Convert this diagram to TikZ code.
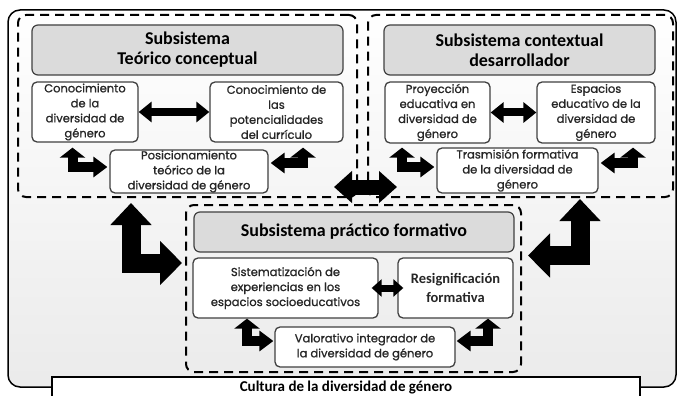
\documentclass[tikz,border=0pt]{standalone}
\usepackage{fontspec}
\setmainfont{Carlito}
\newfontfamily\roundfont[FakeBold=1]{Poppins}
\usetikzlibrary{arrows.meta}

\begin{document}
\begin{tikzpicture}[x=1pt,y=-1pt,
      subbox/.style={draw=black, line width=2pt, dash pattern=on 9pt off 6pt, rounded corners=8pt, inner sep=0pt},
      titlebox/.style={draw=black!75, line width=1.2pt, fill=gray!28, rounded corners=6pt, align=center, inner sep=0pt, font=\bfseries\fontsize{18}{20}\selectfont},
      itembox/.style={draw=black!75, line width=1.3pt, fill=white, rounded corners=5pt, align=center, inner sep=0pt, text=black!85, font=\roundfont\fontsize{11.5}{15}\selectfont},
      dblarrow/.style={line width=8pt, {Triangle[length=13pt,width=20pt]}-{Triangle[length=13pt,width=20pt]}},
      smalldbl/.style={line width=7pt, {Triangle[length=10pt,width=17pt]}-{Triangle[length=10pt,width=17pt]}},
      middbl/.style={line width=15pt, {Triangle[length=18pt,width=31pt]}-{Triangle[length=18pt,width=31pt]}},
      upright/.style={line width=10pt, line join=miter, {Triangle[length=10pt,width=25pt]}-{Triangle[length=14pt,width=20pt]}},
      bigL/.style={line width=19pt, line join=miter, {Triangle[length=22pt,width=40pt]}-{Triangle[length=22pt,width=43pt]}}
      ]
      \clip (0,0) rectangle (678,396);
      % background
      \shadedraw[top color=white, bottom color=gray!16, draw=black, line width=1.5pt, rounded corners=12pt] (8,10) rectangle (676,387);

      % subsystems
      \node[subbox, minimum width=339pt, minimum height=182pt] (teo) at (187.5,106) {};
      \node[subbox, minimum width=305pt, minimum height=182pt] (con) at (520.5,106) {};
      \node[subbox, minimum width=335pt, minimum height=167pt] (pra) at (353.5,288.5) {};

      \node[titlebox, minimum width=311pt, minimum height=50pt] (teoT) at (187.5,50) {Subsistema\\Teórico conceptual};
      \node[titlebox, minimum width=271pt, minimum height=50pt] (conT) at (519.5,50) {Subsistema contextual\\desarrollador};
      \node[titlebox, minimum width=320pt, minimum height=40pt] (praT) at (354,232) {Subsistema práctico formativo};

      % teorico conceptual
      \node[itembox, minimum width=106pt, minimum height=60pt] (cdg) at (85,112) {Conocimiento\\de la\\diversidad de\\género};
      \node[itembox, minimum width=133pt, minimum height=60pt] (cpc) at (276.5,112) {Conocimiento de\\las\\potencialidades\\del currículo};
      \node[itembox, minimum width=158pt, minimum height=43pt] (ptd) at (189,171.5) {Posicionamiento\\teórico de la\\diversidad de género};

      % contextual desarrollador
      \node[itembox, minimum width=105pt, minimum height=61pt] (ped) at (437.5,112.5) {Proyección\\educativa en\\diversidad de\\género};
      \node[itembox, minimum width=118pt, minimum height=61pt] (edg) at (596,112.5) {Espacios\\educativo de la\\diversidad de\\género};
      \node[itembox, minimum width=161pt, minimum height=45pt] (tfd) at (517.5,170.5) {Trasmisión formativa\\de la diversidad de\\género};

      % practico formativo
      \node[itembox, minimum width=185pt, minimum height=60pt] (sep) at (285.5,288) {Sistematización de\\experiencias en los\\espacios socioeducativos};
      \node[itembox, minimum width=115pt, minimum height=60pt, font=\bfseries\fontsize{14.5}{19}\selectfont] (rfo) at (455.5,288) {Resignificación\\formativa};
      \node[itembox, minimum width=180pt, minimum height=40pt] (vid) at (365,347) {Valorativo integrador de\\la diversidad de género};

      % cultura
      \draw[fill=white, line width=1.5pt] (52,377) rectangle (640,405);
      \node[font=\bfseries\fontsize{15}{17}\selectfont] (cul) at (346,388) {Cultura de la diversidad de género};

      % arrows
      \draw[dblarrow] (cdg.east) -- (cpc.west);
      \draw[dblarrow] (ped.east) -- (edg.west);
      \draw[smalldbl] ([xshift=-7pt]sep.east) -- ([xshift=6pt]rfo.west);
      \draw[middbl] ([xshift=-24pt,yshift=-81pt]teo.east) -- ([xshift=30pt,yshift=-81pt]con.west);

      \draw[upright, shorten <=5pt, shorten >=2pt] ([xshift=-12.5pt]cdg.south) |- ([yshift=4.5pt]ptd.west);
      \draw[upright, shorten <=5pt, shorten >=2pt] ([xshift=26.5pt]cpc.south) |- ([yshift=8.5pt]ptd.east);
      \draw[upright, shorten <=4pt, shorten >=2pt] ([xshift=-35.5pt]ped.south) |- ([yshift=3.5pt]tfd.west);
      \draw[upright, shorten <=4pt, shorten >=2pt] ([xshift=37pt]edg.south) |- ([yshift=7.5pt]tfd.east);
      \draw[upright, shorten >=1pt] ([xshift=-38.5pt]sep.south) |- ([yshift=6pt]vid.west);
      \draw[upright, shorten >=1pt] ([xshift=32.5pt]rfo.south) |- ([yshift=6pt]vid.east);

      \draw[bigL, shorten <=5pt, shorten >=3pt] ([xshift=-56.5pt]teo.south) |- ([yshift=25.5pt]pra.west);
      \draw[bigL, shorten <=1pt, shorten >=6pt] ([xshift=59.5pt]con.south) |- ([yshift=33pt]pra.east);
\end{tikzpicture}
\end{document}
